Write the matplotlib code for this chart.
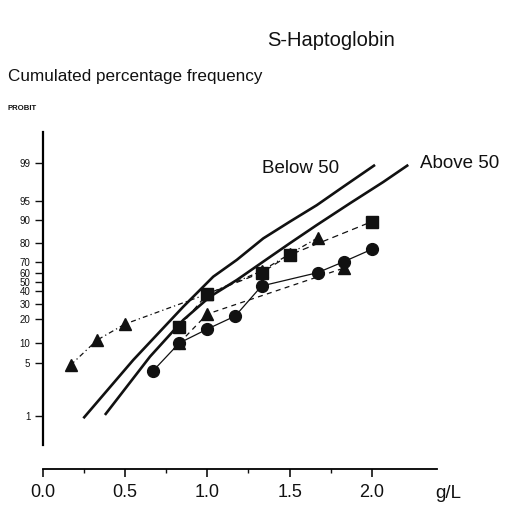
import numpy as np
import matplotlib
matplotlib.use("Agg")
import matplotlib.pyplot as plt
from matplotlib.scale import FuncScale

plt.rcParams['font.family'] = ['Liberation Sans', 'DejaVu Sans']

# ---- probit axis calibration (percent -> axis units, as printed on the chart)
probit_ticks = [1, 5, 10, 20, 30, 40, 50, 60, 70, 80, 90, 95, 99]
probit_units = [-416, -363, -343, -319, -304, -291, -282, -273, -262, -243, -220, -201, -163]

# ---- data (g/L, cumulated percentage)
circ_x = [0.67, 0.83, 1.0, 1.17, 1.33, 1.67, 1.83, 2.0]
circ_y = [4.4, 10.0, 15.8, 22.0, 45.6, 60.3, 70.2, 76.7]

sq_x = [0.83, 1.0, 1.33, 1.5, 2.0]
sq_y = [16.8, 37.7, 60.3, 73.7, 89.3]

tri1_x = [0.17, 0.33, 0.5, 1.0, 1.33, 1.5, 1.67]
tri1_y = [4.85, 11.2, 17.9, 37.7, 61.8, 74.2, 82.2]

tri2_x = [0.83, 1.0, 1.83]
tri2_y = [10.0, 23.3, 64.5]

below_x = [0.247, 0.55, 0.854, 1.036, 1.179, 1.34, 1.502, 1.665, 1.826, 2.019]
below_y = [0.83, 5.75, 28.2, 55.9, 71.1, 82.0, 89.3, 93.9, 96.5, 98.8]

above_x = [0.378, 0.652, 0.854, 1.016, 1.179, 1.34, 1.502, 1.665, 1.867, 2.069, 2.221]
above_y = [1.08, 6.6, 19.6, 35.6, 52.2, 70.2, 79.9, 87.8, 94.4, 97.0, 98.8]

x_ticks = [0.0, 0.5, 1.0, 1.5, 2.0]
x_minor = [0.25, 0.75, 1.25, 1.75]


def _pw(x, xp, fp):
    x = np.asarray(x, float)
    xp = np.asarray(xp, float)
    fp = np.asarray(fp, float)
    y = np.interp(x, xp, fp)
    lo_s = (fp[1] - fp[0]) / (xp[1] - xp[0])
    hi_s = (fp[-1] - fp[-2]) / (xp[-1] - xp[-2])
    y = np.where(x < xp[0], fp[0] + (x - xp[0]) * lo_s, y)
    y = np.where(x > xp[-1], fp[-1] + (x - xp[-1]) * hi_s, y)
    return y


def fwd(p):
    return _pw(p, probit_ticks, probit_units)


def inv(u):
    return _pw(u, probit_units, probit_ticks)


W, H = 506, 508
fig = plt.figure(figsize=(W / 100, H / 100), dpi=100)
ax = fig.add_axes([42.7 / W, (H - 445) / H, (437 - 42.7) / W, (445 - 132) / H])
ax.set_yscale(FuncScale(ax.yaxis, (fwd, inv)))

k = '#111111'
ax.plot(below_x, below_y, '-', color=k, lw=1.9, solid_capstyle='butt')
ax.plot(above_x, above_y, '-', color=k, lw=1.9, solid_capstyle='butt')

ax.plot(circ_x, circ_y, '-', color=k, lw=0.9, marker='o', ms=8.5, mfc=k, mec=k)
ax.plot(sq_x, sq_y, '--', color=k, lw=0.9, dashes=(5, 3.5), marker='s', ms=8.5, mfc=k, mec=k)
ax.plot(tri1_x, tri1_y, '--', color=k, lw=0.9, dashes=(4, 2.5, 1, 2.5), marker='^', ms=8.5, mfc=k, mec=k)
ax.plot(tri2_x, tri2_y, '--', color=k, lw=0.9, dashes=(4, 3.5), marker='^', ms=8.5, mfc=k, mec=k)

ax.set_xlim(0, (437 - 42.7) / 164.6)
ax.set_ylim(float(inv(-445)), float(inv(-132)))

for s in ['top', 'right']:
    ax.spines[s].set_visible(False)
ax.spines['left'].set_linewidth(1.6)
ax.spines['bottom'].set_linewidth(1.3)
ax.spines['bottom'].set_position(('outward', 17.3))

ax.set_yticks(probit_ticks)
ax.set_yticklabels([str(t) for t in probit_ticks], fontsize=7)
ax.yaxis.set_minor_locator(matplotlib.ticker.NullLocator())
ax.tick_params(axis='y', which='major', direction='out', length=6, width=1.0, pad=3, colors=k)

ax.set_xticks(x_ticks)
ax.set_xticklabels([f"{t:.1f}" for t in x_ticks], fontsize=13)
ax.set_xticks(x_minor, minor=True)
ax.tick_params(axis='x', which='major', direction='out', length=6, width=1.2, pad=5, colors=k)
ax.tick_params(axis='x', which='minor', direction='out', length=3, width=1.0, colors=k)

def ftext(px, py, s, **kw):
    fig.text(px / W, 1 - py / H, s, color=k, **kw)

ftext(331, 41, "S-Haptoglobin", fontsize=14.5, ha='center', va='center')
ftext(8, 76, "Cumulated percentage frequency", fontsize=12.3, ha='left', va='center')
ftext(8, 108, "PROBIT", fontsize=5.6, ha='left', va='center', fontweight='bold')
ftext(262, 168, "Below 50", fontsize=13.5, ha='left', va='center')
ftext(420, 163, "Above 50", fontsize=13.5, ha='left', va='center')
ftext(435, 494, "g/L", fontsize=13.5, ha='left', va='center')

fig.savefig("out.png", dpi=100)
